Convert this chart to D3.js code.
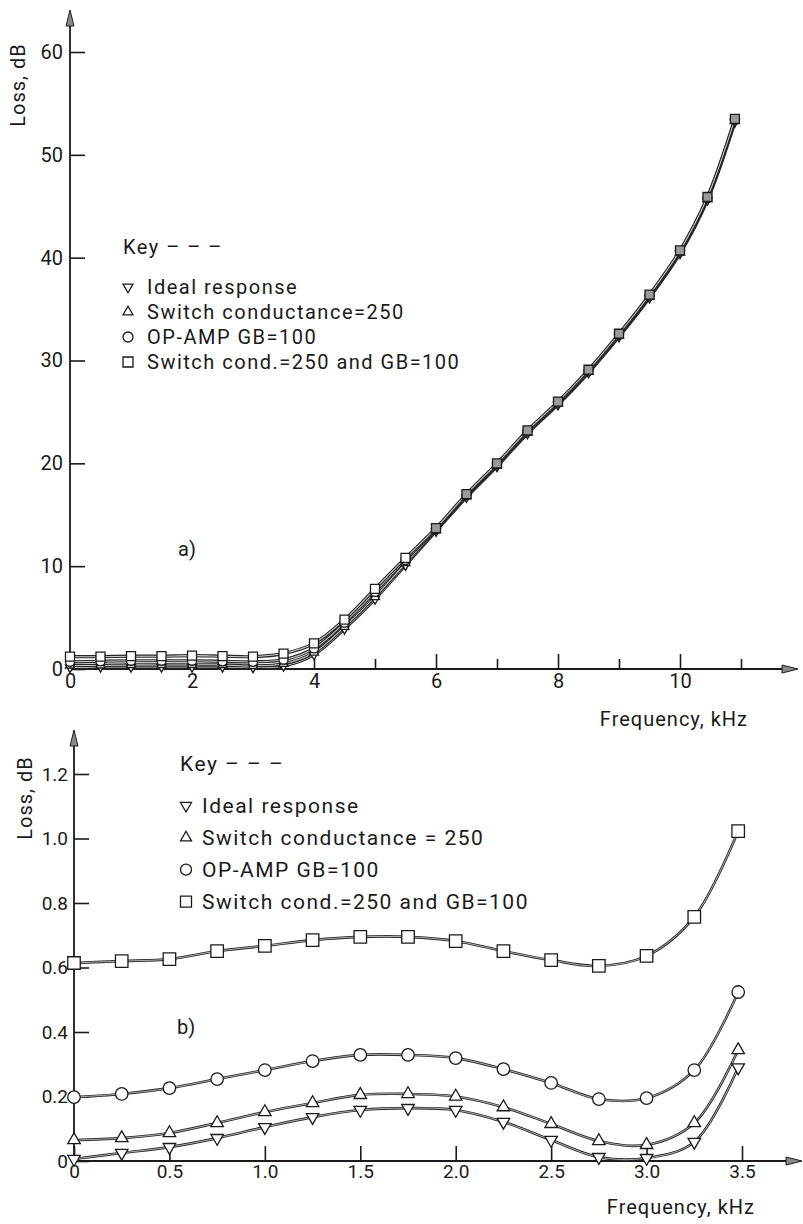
<!DOCTYPE html>
<html><head><meta charset="utf-8">
<script src="https://cdn.jsdelivr.net/npm/d3@7"></script>
<style>
body{margin:0;background:#fff}
svg{display:block}
text{font-family:Roboto,"DejaVu Sans",sans-serif;fill:#1a1a1a}
</style>
</head><body>
<svg id="c" width="803" height="1224"></svg>
<script>
// ---------- DATA (panel a) ----------
const topFreq   = [0,0.5,1,1.5,2,2.5,3,3.5,4,4.5,5,5.5,6,6.5,7,7.5,8,8.5,9,9.5,10,10.45,10.9];
const topIdeal  = [0.15,0.2,0.2,0.2,0.2,0.2,0.15,0.3,1.4,3.9,6.8,10.1,13.4,16.7,19.7,22.9,25.7,28.8,32.3,36.1,40.4,45.6,53.2];
const topSwitch = [0.35,0.35,0.4,0.4,0.4,0.4,0.3,0.5,1.6,4.1,7.0,10.3,13.5,16.8,19.8,23.0,25.8,28.9,32.4,36.2,40.5,45.7,53.3];
const topOpamp  = [0.7,0.75,0.8,0.8,0.8,0.75,0.7,0.9,2.0,4.5,7.5,10.6,13.6,16.9,19.9,23.1,25.9,29.0,32.5,36.3,40.6,45.8,53.4];
const topBoth   = [1.2,1.2,1.25,1.25,1.3,1.25,1.2,1.5,2.5,4.8,7.8,10.8,13.7,17.0,20.0,23.2,26.0,29.1,32.6,36.4,40.7,45.9,53.5];
const topYTicks = [0,10,20,30,40,50,60];
const topXMajor = [0,2,4,6,8,10];
const topXMinor = [1,3,5,7,9,11];

// ---------- DATA (panel b) ----------
const botFreq   = [0,0.25,0.5,0.75,1.0,1.25,1.5,1.75,2.0,2.25,2.5,2.75,3.0,3.25,3.48];
const botIdeal  = [0.006,0.025,0.043,0.071,0.105,0.136,0.158,0.164,0.158,0.121,0.065,0.012,0.009,0.059,0.29];
const botSwitch = [0.065,0.071,0.087,0.118,0.152,0.18,0.205,0.208,0.2,0.167,0.115,0.062,0.05,0.118,0.344];
const botOpamp  = [0.198,0.208,0.226,0.254,0.282,0.31,0.329,0.329,0.319,0.285,0.242,0.192,0.195,0.282,0.524];
const botBoth   = [0.614,0.62,0.626,0.651,0.667,0.685,0.695,0.695,0.682,0.651,0.623,0.605,0.636,0.757,1.023];
const botYTicks = [0,0.2,0.4,0.6,0.8,1.0,1.2];
const botXTicks = [0,0.5,1.0,1.5,2.0,2.5,3.0,3.5];

const keyTitle = "Key \u2013 \u2013 \u2013";
const topLegend = ["Ideal response","Switch conductance=250","OP-AMP GB=100","Switch cond.=250 and GB=100"];
const botLegend = ["Ideal response","Switch conductance = 250","OP-AMP  GB=100","Switch cond.=250 and GB=100"];
const markerKinds = ["down","up","circle","square"];

const svg = d3.select("#c");
const ink = "#1a1a1a";

function symbolPath(kind, s){
  if(kind==="circle") return d3.symbol(d3.symbolCircle, Math.PI*(s/2)*(s/2))();
  if(kind==="square") return d3.symbol(d3.symbolSquare, s*s)();
  const h = s*0.866;
  if(kind==="up") return `M0,${-h*2/3}L${s/2},${h/3}L${-s/2},${h/3}Z`;
  return `M0,${h*2/3}L${s/2},${-h/3}L${-s/2},${-h/3}Z`;
}

function arrowUp(g,x,tip){
  g.append("path").attr("d",`M${x},${tip}L${x+4},${tip+16}L${x-4},${tip+16}Z`)
   .attr("fill","#8a8a8a").attr("stroke",ink).attr("stroke-width",1);
}
function arrowRight(g,tip,y){
  g.append("path").attr("d",`M${tip},${y}L${tip-16},${y-4}L${tip-16},${y+4}Z`)
   .attr("fill","#8a8a8a").attr("stroke",ink).attr("stroke-width",1);
}

function panel(o){
  const g = svg.append("g");
  const x = d3.scaleLinear().domain(o.xDom).range(o.xRange);
  const y = d3.scaleLinear().domain(o.yDom).range(o.yRange);
  const x0 = x(0), y0 = y(0);

  g.append("line").attr("x1",x0).attr("x2",o.xArrow-14).attr("y1",y0).attr("y2",y0)
   .attr("stroke",ink).attr("stroke-width",1.8);
  g.append("line").attr("x1",x0).attr("x2",x0).attr("y1",y0).attr("y2",o.yArrow+14)
   .attr("stroke",ink).attr("stroke-width",1.8);
  arrowUp(g,x0,o.yArrow);
  arrowRight(g,o.xArrow,y0);

  const ya = d3.axisLeft(y).tickValues(o.yTicks).tickSizeInner(-15).tickSizeOuter(0)
    .tickPadding(o.yPad).tickFormat(o.yFmt);
  const yg = g.append("g").attr("transform",`translate(${x0},0)`).call(ya);
  yg.select(".domain").remove();
  yg.selectAll("line").attr("stroke",ink).attr("stroke-width",1.6);
  yg.selectAll("text").style("font-size",o.tickFont+"px").attr("fill",ink);

  const xa = d3.axisBottom(x).tickValues(o.xMajor).tickSizeInner(-15).tickSizeOuter(0)
    .tickPadding(o.xPad).tickFormat(o.xFmt);
  const xg = g.append("g").attr("transform",`translate(0,${y0})`).call(xa);
  xg.select(".domain").remove();
  xg.selectAll("line").attr("stroke",ink).attr("stroke-width",1.6);
  xg.selectAll("text").style("font-size",o.tickFont+"px").attr("fill",ink);
  if(o.xMinor){
    const xm = d3.axisBottom(x).tickValues(o.xMinor).tickSizeInner(-10).tickSizeOuter(0).tickFormat("");
    const mg = g.append("g").attr("transform",`translate(0,${y0})`).call(xm);
    mg.select(".domain").remove();
    mg.selectAll("line").attr("stroke",ink).attr("stroke-width",1.6);
  }

  g.append("text").attr("transform",`translate(${o.yTitle[0]},${o.yTitle[1]}) rotate(-90)`)
   .attr("text-anchor","middle").style("font-size","20px").attr("letter-spacing",1).text("Loss, dB");
  g.append("text").attr("x",o.xTitle[0]).attr("y",o.xTitle[1]).attr("text-anchor","end")
   .style("font-size","20px").attr("letter-spacing",1).text("Frequency, kHz");
  g.append("text").attr("x",o.tag[0]).attr("y",o.tag[1]).style("font-size","20px").text(o.tagText);

  const line = d3.line().x(d=>x(d[0])).y(d=>y(d[1])).curve(d3.curveCatmullRom.alpha(0.5));
  o.series.forEach(s=>{
    const pts = o.freq.map((f,i)=>[f,s[i]]);
    g.append("path").attr("d",line(pts)).attr("fill","none").attr("stroke","#262626").attr("stroke-width",o.lw);
    g.append("path").attr("d",line(pts)).attr("fill","none").attr("stroke","#cfcfcf").attr("stroke-width",o.lw*0.32);
  });
  o.series.forEach((s,k)=>{
    g.selectAll(null).data(o.freq.map((f,i)=>[f,s[i]])).join("path")
     .attr("transform",d=>`translate(${x(d[0])},${y(d[1])})`)
     .attr("d",symbolPath(markerKinds[k],o.ms))
     .attr("fill",d=>o.fillFn(d)).attr("stroke",ink).attr("stroke-width",1.3);
  });

  const L = o.legend;
  g.append("text").attr("x",L.x).attr("y",L.keyY).style("font-size",L.font+"px")
   .attr("letter-spacing",L.ls).text(keyTitle);
  L.labels.forEach((t,i)=>{
    const by = L.y0 + i*L.dy;
    g.append("path").attr("transform",`translate(${L.mx},${by-L.font*0.35})`)
     .attr("d",symbolPath(markerKinds[i],L.ms)).attr("fill","#fff").attr("stroke",ink).attr("stroke-width",1.3);
    g.append("text").attr("x",L.tx).attr("y",by).style("font-size",L.font+"px")
     .attr("letter-spacing",L.ls).text(t);
  });
}

panel({
  xDom:[0,11], xRange:[70,741], yDom:[0,60], yRange:[669,52],
  xArrow:798, yArrow:10,
  yTicks:topYTicks, yPad:7, yFmt:d3.format("d"),
  xMajor:topXMajor, xMinor:topXMinor, xPad:5, xFmt:d3.format("d"),
  tickFont:20,
  yTitle:[25,85], xTitle:[748,726], tag:[178,556], tagText:"a)",
  freq:topFreq, series:[topIdeal,topSwitch,topOpamp,topBoth],
  lw:3.2, ms:9, fillFn:d=> d[0]>=5.75 ? "#9a9a9a" : "#fff",
  legend:{x:123,keyY:254,labels:topLegend,y0:294,dy:25,mx:128,tx:147,font:20,ls:1.5,ms:10}
});

panel({
  xDom:[0,3.5], xRange:[74,742], yDom:[0,1.2], yRange:[1161,774],
  xArrow:802, yArrow:730,
  yTicks:botYTicks, yPad:6, yFmt:d=> d===0 ? "0" : d3.format(".1f")(d),
  xMajor:botXTicks, xMinor:null, xPad:3, xFmt:d=> d===0 ? "0" : d3.format(".1f")(d),
  tickFont:19,
  yTitle:[32,798], xTitle:[755,1214], tag:[177,1034], tagText:"b)",
  freq:botFreq, series:[botIdeal,botSwitch,botOpamp,botBoth],
  lw:2.6, ms:12.5, fillFn:d=>"#fff",
  legend:{x:180,keyY:771,labels:botLegend,y0:813,dy:32,mx:186,tx:202,font:21,ls:1.5,ms:11}
});
</script>
</body></html>
